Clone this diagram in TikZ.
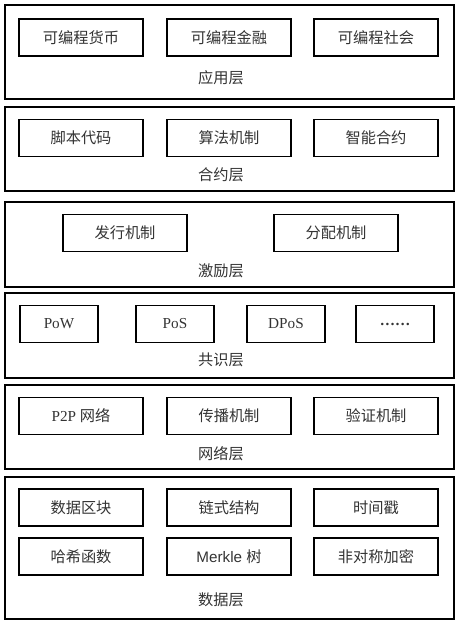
\documentclass[tikz,border=0pt]{standalone}
\usepackage{fontspec}
\setmainfont{Liberation Serif}
\setsansfont{Liberation Sans}
\newfontfamily\cjk{Noto Sans CJK SC}
\tikzset{%
layer/.style={draw,line width=1.5pt,anchor=north west,inner sep=0pt,
              minimum width=13.47cm},
item/.style={draw,line width=1.2pt,inner sep=0pt,text=black!80,
             minimum width=3.72cm,minimum height=1.12cm,
             font=\cjk\fontsize{13}{15}\selectfont},
smallitem/.style={item,minimum width=2.34cm},
layername/.style={text=black!80,inner sep=0pt,
                  font=\cjk\fontsize{13}{15}\selectfont}
}
\begin{document}
\begin{tikzpicture}[x=0.03cm,y=-0.03cm]
\useasboundingbox (0,0) rectangle (455,621);
% layers
\foreach \n/\top/\h in {app/4/94,
                        contract/106/84,
                        incent/201/85,
                        consen/292/85,
                        net/384/84,
                        data/476/142}
{
  \node[layer,minimum height=\h*0.03cm] (\n) at (4,\top) {};
}
\node[layername] (appname)      at (221,78)  {应用层};
\node[layername] (contractname) at (221,175) {合约层};
\node[layername] (incentname)   at (221,271) {激励层};
\node[layername] (consenname)   at (221,360) {共识层};
\node[layername] (netname)      at (221,454) {网络层};
\node[layername] (dataname)     at (221,600) {数据层};

\foreach \n/\x/\y/\t in {money/81/37.5/可编程货币,
                         finance/229/37.5/可编程金融,
                         society/376/37.5/可编程社会,
                         script/81/138/脚本代码,
                         algo/229/138/算法机制,
                         smart/376/138/智能合约,
                         issue/125/233/发行机制,
                         alloc/336/233/分配机制,
                         p2p/81/416/{\rmfamily P2P \cjk 网络},
                         spread/229/416/传播机制,
                         verify/376/416/验证机制,
                         block/81/507.5/数据区块,
                         chain/229/507.5/链式结构,
                         stamp/376/507.5/时间戳,
                         hash/81/556.5/哈希函数,
                         merkle/229/556.5/{\sffamily Merkle \cjk 树},
                         crypt/376/556.5/非对称加密}
  \node[item] (\n) at (\x,\y) {\t};

\foreach \n/\x/\t in {pow/59/PoW,pos/175/PoS,dpos/286/DPoS,more/395/\textbf{……}}
  \node[smallitem] (\n) at (\x,324) {\rmfamily\t};
\end{tikzpicture}
\end{document}
